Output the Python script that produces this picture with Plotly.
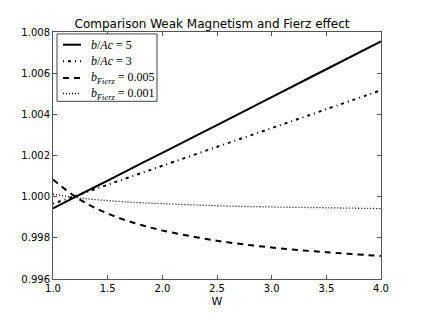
import plotly.graph_objects as go

W = [1.0, 1.25, 1.5, 1.75, 2.0, 2.5, 3.0, 3.5, 4.0]
wm5 = [0.99943, 1.00011, 1.00078, 1.00146, 1.00213, 1.00348, 1.00484, 1.00619, 1.00754]
wm3 = [0.99966, 1.00012, 1.00058, 1.00104, 1.00150, 1.00242, 1.00333, 1.00425, 1.00517]
fierz005 = [1.00083, 0.99984, 0.99918, 0.99871, 0.99836, 0.99786, 0.99753, 0.99730, 0.99712]
fierz001 = [1.00012, 0.99993, 0.99981, 0.99972, 0.99966, 0.99956, 0.99950, 0.99946, 0.99942]

names = ["<i>b</i>/<i>Ac</i> = 5", "<i>b</i>/<i>Ac</i> = 3",
         "<i>b</i><sub><i>Fierz</i></sub> = 0.005", "<i>b</i><sub><i>Fierz</i></sub> = 0.001"]
series = [wm5, wm3, fierz005, fierz001]
dashes = ["solid", "1px,4px,3px,4px", "6px,5px", "1px,2px"]
widths = [2, 2, 2, 1.3]

xticks = [1.0, 1.5, 2.0, 2.5, 3.0, 3.5, 4.0]
yticks = [0.996, 0.998, 1.000, 1.002, 1.004, 1.006, 1.008]

# plot area in pixels (for the hand-made legend box)
L, R, T, B = 53, 381, 32, 285
def px(x):
    return (x - L) / (R - L)
def py(y):
    return (B - y) / (B - T)

fig = go.Figure()
for n, s, d, w in zip(names, series, dashes, widths):
    fig.add_trace(go.Scatter(x=W, y=s, mode="lines", name=n, showlegend=False,
                             line=dict(color="black", dash=d, width=w, shape="spline")))

# legend box
fig.add_shape(type="rect", xref="paper", yref="paper", x0=px(57), x1=px(157), y0=py(34), y1=py(103),
              line=dict(color="#444", width=1), fillcolor="white", layer="above")
rows = [45, 62, 79, 95]
for n, d, w, r in zip(names, dashes, widths, rows):
    fig.add_shape(type="line", xref="paper", yref="paper", x0=px(63), x1=px(81), y0=py(r), y1=py(r),
                  line=dict(color="black", dash=d, width=w), layer="above")
    fig.add_annotation(xref="paper", yref="paper", x=px(89), y=py(r), xanchor="left", yanchor="middle",
                       text=n, showarrow=False,
                       font=dict(family="Liberation Serif", size=12, color="black"))

axis_common = dict(showgrid=False, zeroline=False, showline=True, linecolor="#555",
                   linewidth=1, mirror="allticks", ticks="inside", ticklen=4,
                   tickcolor="#555", tickfont=dict(family="DejaVu Sans", size=10, color="black"))

fig.update_layout(
    width=424, height=318,
    margin=dict(l=L, r=424 - R, t=T, b=318 - B),
    paper_bgcolor="white", plot_bgcolor="white",
    title=dict(text="Comparison Weak Magnetism and Fierz effect", x=0.5, xanchor="center",
               y=0.924, yanchor="middle",
               font=dict(family="DejaVu Sans", size=12, color="black")),
    xaxis=dict(range=[1.0, 4.0], tickvals=xticks, ticktext=[f"{v:.1f}" for v in xticks],
               title=dict(text="W", standoff=4, font=dict(family="DejaVu Sans", size=11, color="black")),
               **axis_common),
    yaxis=dict(range=[0.996, 1.008], tickvals=yticks, ticktext=[f"{v:.3f}" for v in yticks],
               **axis_common),
    showlegend=False,
)

fig.write_html("out.html", config={"displayModeBar": False},
               post_script="document.body.style.margin='0';")
